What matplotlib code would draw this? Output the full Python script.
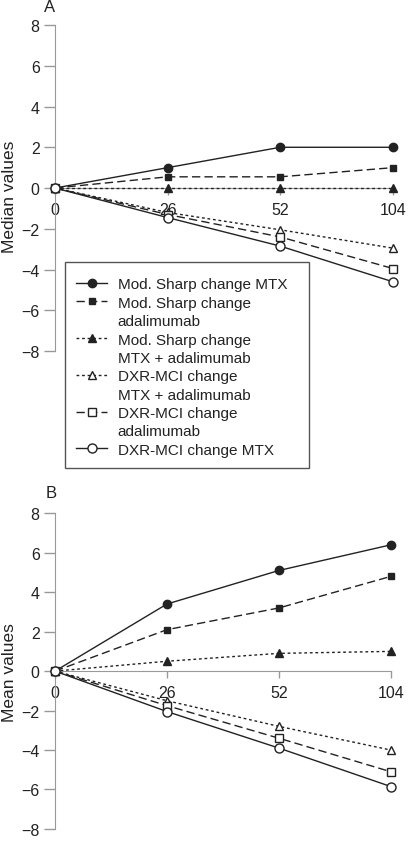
import matplotlib.pyplot as plt
from matplotlib.patches import Rectangle
from matplotlib.lines import Line2D
import numpy as np

plt.rcParams['font.family'] = ['Liberation Sans', 'DejaVu Sans']

weeks = ["0", "26", "52", "104"]
labels = ["Mod. Sharp change MTX",
          "Mod. Sharp change\nadalimumab",
          "Mod. Sharp change\nMTX + adalimumab",
          "DXR-MCI change\nMTX + adalimumab",
          "DXR-MCI change\nadalimumab",
          "DXR-MCI change MTX"]

# panel A: median values
sharp_mtx_med = [0, 1, 2, 2]
sharp_ada_med = [0, 0.55, 0.55, 1]
sharp_comb_med = [0, 0, 0, 0]
dxr_comb_med = [0, -1.2, -2.05, -2.95]
dxr_ada_med = [0, -1.3, -2.4, -3.95]
dxr_mtx_med = [0, -1.45, -2.85, -4.6]

# panel B: mean values
sharp_mtx_mean = [0, 3.4, 5.1, 6.4]
sharp_ada_mean = [0, 2.1, 3.2, 4.8]
sharp_comb_mean = [0, 0.5, 0.9, 1.0]
dxr_comb_mean = [0, -1.5, -2.8, -4.0]
dxr_ada_mean = [0, -1.75, -3.4, -5.1]
dxr_mtx_mean = [0, -2.05, -3.9, -5.85]

ink = "#222222"
grey = "#999999"
styles = [
    dict(ls="-", marker="o", mfc=ink, ms=6),
    dict(ls=(0, (6, 3)), marker="s", mfc=ink, ms=5),
    dict(ls=(0, (2, 2)), marker="^", mfc=ink, ms=5.5),
    dict(ls=(0, (2, 2)), marker="^", mfc="white", ms=6),
    dict(ls=(0, (6, 3)), marker="s", mfc="white", ms=5.5),
    dict(ls="-", marker="o", mfc="white", ms=6.5),
]


def draw_panel(ax, series, ylabel, label_y):
    x = np.arange(len(weeks))
    handles = []
    for vals, st, lab in zip(series, styles, labels):
        h, = ax.plot(x, vals, color=ink, lw=1, ls=st["ls"], marker=st["marker"],
                     mfc=st["mfc"], mec=ink, mew=1, ms=st["ms"], clip_on=False,
                     label=lab, zorder=3)
        handles.append(h)
    ax.set_xlim(0, 3)
    ax.set_ylim(-8, 8)
    ax.set_yticks(np.arange(-8, 9, 2))
    ax.set_yticklabels([str(v).replace("-", "\u2212") for v in range(-8, 9, 2)])
    ax.set_xticks(x)
    ax.set_xticklabels(weeks)
    for s in ["top", "right"]:
        ax.spines[s].set_visible(False)
    ax.spines["bottom"].set_position(("data", 0))
    ax.spines["bottom"].set_color(grey)
    ax.spines["left"].set_color(grey)
    ax.tick_params(axis="both", colors=grey, labelcolor=ink, labelsize=11.5)
    ax.tick_params(axis="y", length=8, width=1, pad=3)
    ax.tick_params(axis="x", length=5, width=1, pad=5)
    ax.set_ylabel(ylabel, fontsize=12.5, color=ink)
    ax.yaxis.set_label_coords(-0.112, label_y)
    return handles


fig = plt.figure(figsize=(4.09, 8.45), dpi=100)
axA = fig.add_axes([0.1345, 0.5834, 0.826, 0.3858])
axB = fig.add_axes([0.1345, 0.0178, 0.821, 0.3736])

hA = draw_panel(axA, [sharp_mtx_med, sharp_ada_med, sharp_comb_med,
                      dxr_comb_med, dxr_ada_med, dxr_mtx_med], "Median values", 0.476)
draw_panel(axB, [sharp_mtx_mean, sharp_ada_mean, sharp_comb_mean,
                 dxr_comb_mean, dxr_ada_mean, dxr_mtx_mean], "Mean values", 0.5)

fig.text(50 / 409, 1 - 8 / 845, "A", fontsize=12, color=ink, ha="center", va="center")
fig.text(51 / 409, 1 - 494 / 845, "B", fontsize=12, color=ink, ha="center", va="center")

# split two-line labels so the symbol sits next to the first line
blank = Line2D([], [], ls="none")
leg_handles, leg_labels = [], []
for h, lab in zip(hA, labels):
    for i, part in enumerate(lab.split("\n")):
        leg_handles.append(h if i == 0 else blank)
        leg_labels.append(part)

# legend box drawn separately so its width matches the original
fig.patches.append(Rectangle((65 / 409, 1 - 469 / 845), 244 / 409, 206 / 845,
                             transform=fig.transFigure, fill=True, fc="white",
                             ec="#555555", lw=1, zorder=4))
leg = fig.legend(leg_handles, leg_labels, loc="upper left",
                 bbox_to_anchor=(65 / 409, 1 - 267 / 845),
                 borderaxespad=0, fontsize=11, frameon=False,
                 handlelength=2.0, handletextpad=0.7, labelspacing=0.285,
                 borderpad=0.75)
leg.set_zorder(5)
for t in leg.get_texts():
    t.set_color(ink)

fig.savefig("out.png", dpi=100)
